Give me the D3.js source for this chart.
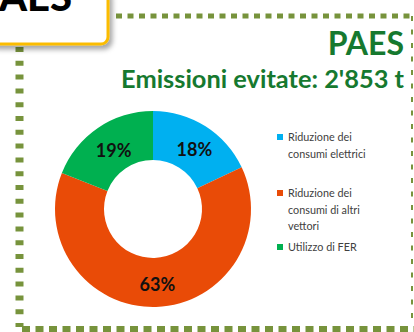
<!DOCTYPE html>
<html>
<head>
<meta charset="utf-8">
<script src="https://cdn.jsdelivr.net/npm/d3@7"></script>
<style>
  html, body { margin: 0; padding: 0; background: #ffffff; }
  svg { display: block; }
</style>
</head>
<body>
<svg id="chart" width="414" height="332"></svg>
<script>
// Emission savings split by measure (PAES)
const categories = ["Riduzione dei consumi elettrici", "Riduzione dei consumi di altri vettori", "Utilizzo di FER"];
const legendLines = [["Riduzione dei", "consumi elettrici"], ["Riduzione dei", "consumi di altri", "vettori"], ["Utilizzo di FER"]];
const values = [18, 63, 19];
const colors = ["#00b0f0", "#e94b07", "#00b050"];
const title = "PAES";
const subtitle = "Emissioni evitate: 2'853 t";

const svg = d3.select("#chart");

// drop shadow for the header tab
const defs = svg.append("defs");
const f = defs.append("filter").attr("id", "shadow")
  .attr("x", "-20%").attr("y", "-20%").attr("width", "150%").attr("height", "160%");
f.append("feDropShadow").attr("dx", 3).attr("dy", 4).attr("stdDeviation", 2.5)
  .attr("flood-color", "#000").attr("flood-opacity", 0.35);

// dotted green frame
const frameColor = "#77933c";
svg.append("line").attr("x1", 116).attr("x2", 410).attr("y1", 16).attr("y2", 16)
  .attr("stroke", frameColor).attr("stroke-width", 5).attr("stroke-dasharray", "6 5.5");
svg.append("line").attr("x1", 19.5).attr("x2", 19.5).attr("y1", 47).attr("y2", 327)
  .attr("stroke", frameColor).attr("stroke-width", 8).attr("stroke-dasharray", "5 8.8");
svg.append("line").attr("x1", 22).attr("x2", 414).attr("y1", 329.5).attr("y2", 329.5)
  .attr("stroke", frameColor).attr("stroke-width", 7).attr("stroke-dasharray", "8 5.5");
svg.append("line").attr("x1", 412).attr("x2", 412).attr("y1", 16).attr("y2", 326)
  .attr("stroke", frameColor).attr("stroke-width", 2).attr("stroke-dasharray", "5 8.5");

// header tab (partly outside the view)
svg.append("rect").attr("x", -12).attr("y", -12).attr("width", 120).attr("height", 56)
  .attr("rx", 7).attr("fill", "#fff").attr("stroke", "#fbbc04").attr("stroke-width", 3)
  .attr("filter", "url(#shadow)");
svg.append("text").attr("x", 72).attr("y", 11).attr("text-anchor", "end")
  .attr("font-family", "Lato, 'Open Sans', sans-serif").attr("font-weight", 900)
  .attr("font-size", 40).attr("fill", "#000").text(title);

// titles
svg.append("text").attr("x", 404).attr("y", 55).attr("text-anchor", "end")
  .attr("font-family", "Lato, sans-serif").attr("font-weight", 700)
  .attr("font-size", 32).attr("fill", "#16792f").text(title);
const sub = svg.append("text").attr("x", 404).attr("y", 88).attr("text-anchor", "end")
  .attr("font-family", "Lato, sans-serif").attr("font-weight", 700)
  .attr("font-size", 19).attr("fill", "#16792f").text(subtitle);
const w = sub.node().getComputedTextLength();
sub.attr("font-size", 19 * 283 / w);

// donut
const cx = 153, cy = 209, rOuter = 98, rInner = 49;
const pie = d3.pie().sort(null).value(d => d);
const arc = d3.arc().innerRadius(rInner).outerRadius(rOuter);
const g = svg.append("g").attr("transform", `translate(${cx},${cy})`);
const arcs = pie(values);
g.selectAll("path").data(arcs).join("path")
  .attr("d", arc).attr("fill", (d, i) => colors[i]);
g.selectAll("text").data(arcs).join("text")
  .attr("transform", d => { const c = arc.centroid(d); return `translate(${c[0] + 2},${c[1] + 4})`; })
  .attr("text-anchor", "middle").attr("dominant-baseline", "middle")
  .attr("font-family", "Lato, sans-serif").attr("font-weight", 700)
  .attr("font-size", 18).attr("fill", "#111")
  .text(d => d.data + "%");

// legend
const legendY = [134, 190, 244];
const lg = svg.append("g").attr("font-family", "Lato, sans-serif").attr("font-size", 10.8).attr("fill", "#404040");
categories.forEach((c, i) => {
  lg.append("rect").attr("x", 277).attr("y", legendY[i]).attr("width", 6).attr("height", 6).attr("fill", colors[i]);
  legendLines[i].forEach((t, j) => {
    lg.append("text").attr("x", 288).attr("y", legendY[i] + 7 + j * 16.5).text(t);
  });
});
</script>
</body>
</html>
